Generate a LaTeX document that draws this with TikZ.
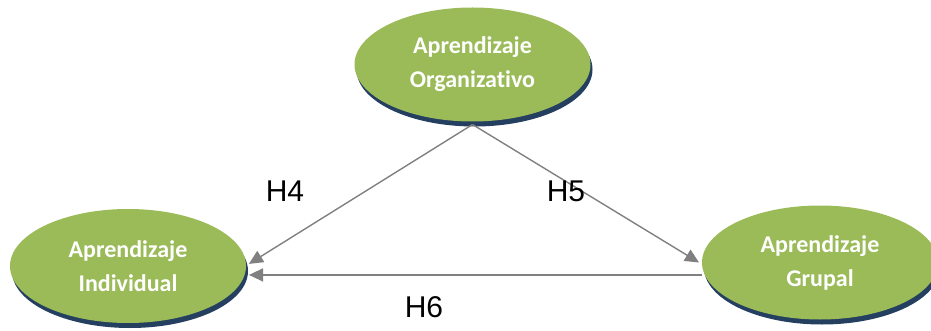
\documentclass[tikz,border=0pt]{standalone}
\usepackage{fontspec}
\setmainfont{Liberation Sans}
\newfontfamily\calibri[Ligatures=NoCommon]{Carlito}
\usepackage{tikz}
\usetikzlibrary{shapes, arrows.meta, shadows}
\definecolor{olivegreen}{HTML}{9BBB59}
\definecolor{shadowblue}{HTML}{243F60}
\definecolor{linkgray}{HTML}{808080}

\begin{document}
\begin{tikzpicture}[x=1pt,y=-1pt]
      \tikzset{construct/.style={ellipse,
          fill=olivegreen,
          inner sep=0pt,
          outer sep=3pt,
          minimum width=#1,
          minimum height=114pt,
          align=center,
          text=white,
          font=\calibri\bfseries\fontsize{24}{34}\selectfont,
          drop shadow={shadow xshift=2pt, shadow yshift=-5pt, fill=shadowblue, opacity=1}},
        link/.style={draw=linkgray, line width=1.4pt,
          -{Triangle[length=14pt, width=13pt]}},
        hyp/.style={inner sep=0pt, font=\fontsize{30}{32}\selectfont}
      }
      \useasboundingbox (0,0) rectangle (931,331);
      \node [construct=236pt] (org) at (472.5,64.5) {Aprendizaje\\Organizativo};
      \node [construct=236pt] (ind) at (128,266) {Aprendizaje\\Individual};
      \node [construct=236pt] (grp) at (820,262.5) {Aprendizaje\\Grupal};

      \draw [link] (org.south) -- (ind.1);
      \draw [link] (org.south) -- (grp.180);
      \draw [link] (grp.186) -- (grp.186 -| ind.east);

      \node [hyp] (h4) at (285,191) {H4};
      \node [hyp] (h5) at (566,191) {H5};
      \node [hyp] (h6) at (424,307.5) {H6};
    \end{tikzpicture}
\end{document}
